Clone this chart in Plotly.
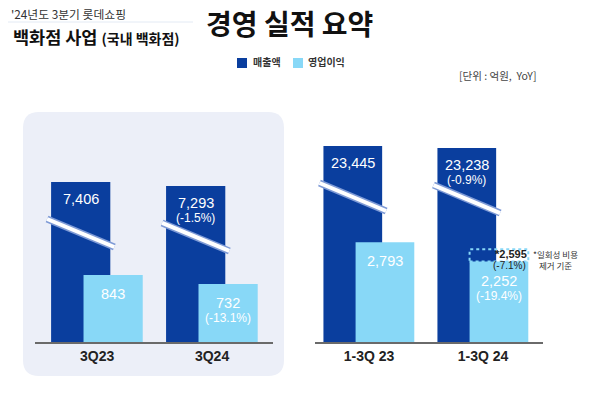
import plotly.graph_objects as go

# ---------------- data ----------------
periods_q = ["3Q23", "3Q24"]
sales_q = [7406, 7293]
op_q = [843, 732]
sales_q_yoy = [None, "(-1.5%)"]
op_q_yoy = [None, "(-13.1%)"]

periods_cum = ["1-3Q 23", "1-3Q 24"]
sales_cum = [23445, 23238]
op_cum = [2793, 2252]
sales_cum_yoy = [None, "(-0.9%)"]
op_cum_yoy = [None, "(-19.4%)"]
op_adj_cum = [None, 2595]
op_adj_cum_yoy = [None, "(-7.1%)"]

series_names = ["매출액", "영업이익"]

# ---------------- style ----------------
W, H = 600, 393
DARK = "#0A3E9E"
LIGHT = "#88D8F7"
PANEL = "#ECEFF8"
TXT = "#222222"
NUM_FONT = "Liberation Sans, Arial, Noto Sans CJK KR"
KR_FONT = "Noto Sans CJK KR, Noto Sans, sans-serif"

PLOT_TOP, PLOT_BOT = 100, 342
PLOT_H = PLOT_BOT - PLOT_TOP

D_OFF, D_W = -0.40, 0.515
L_OFF, L_W = -0.118, 0.515


def px(x):
    return x / W


def py(y):
    return 1 - y / H


# axis ranges: dark bars on a truncated axis (base), light bars full scale (overlaying)
yL_dark = [2835, 2835 + PLOT_H / 0.035]
yL_light = [0, PLOT_H * 12.6]
yR_dark = [3845, 3845 + PLOT_H / 0.01]
yR_light = [0, PLOT_H * 28.0]

fig = go.Figure()

panels = [
    dict(xa="x", yd="y", yl="y2", cats=periods_q, sales=sales_q, op=op_q,
         s_yoy=sales_q_yoy, o_yoy=op_q_yoy, rd=yL_dark),
    dict(xa="x2", yd="y3", yl="y4", cats=periods_cum, sales=sales_cum, op=op_cum,
         s_yoy=sales_cum_yoy, o_yoy=op_cum_yoy, rd=yR_dark),
]

shapes = []
annotations = []


def rounded_rect(x0, y0, x1, y1, r):
    X0, X1 = px(x0), px(x1)
    Y0, Y1 = py(y0), py(y1)
    rx, ry = r / W, r / H
    return (f"M {X0+rx},{Y0} L {X1-rx},{Y0} Q {X1},{Y0} {X1},{Y0-ry} "
            f"L {X1},{Y1+ry} Q {X1},{Y1} {X1-rx},{Y1} L {X0+rx},{Y1} "
            f"Q {X0},{Y1} {X0},{Y1+ry} L {X0},{Y0-ry} Q {X0},{Y0} {X0+rx},{Y0} Z")


shapes.append(dict(type="path", xref="paper", yref="paper", layer="below",
                   path=rounded_rect(23, 112, 284, 376, 16), fillcolor=PANEL, line=dict(width=0)))

for p in panels:
    n = len(p["cats"])
    xs = list(range(n))
    fig.add_trace(go.Bar(x=xs, y=p["sales"], xaxis=p["xa"], yaxis=p["yd"],
                         offset=D_OFF, width=D_W, marker=dict(color=DARK, line=dict(width=0)),
                         name=series_names[0], showlegend=False, hoverinfo="skip"))
    fig.add_trace(go.Bar(x=xs, y=p["op"], xaxis=p["xa"], yaxis=p["yl"],
                         offset=L_OFF, width=L_W, marker=dict(color=LIGHT, line=dict(width=0)),
                         name=series_names[1], showlegend=False, hoverinfo="skip"))
    upp = (p["rd"][1] - p["rd"][0]) / PLOT_H
    for i in xs:
        v = p["sales"][i]
        # axis-break marks on the truncated sales bars
        bx0 = i + D_OFF - 0.035
        bx1 = i + D_OFF + D_W + 0.035
        by0 = v - 37 * upp
        by1 = v - 65 * upp
        for col, lw in (("#7E9AD6", 7), ("white", 4)):
            shapes.append(dict(type="line", xref=p["xa"], yref=p["yd"],
                               x0=bx0, x1=bx1, y0=by0, y1=by1,
                               line=dict(color=col, width=lw)))
        cx = i + D_OFF + D_W / 2
        annotations.append(dict(x=cx, y=v, xref=p["xa"], yref=p["yd"], text=f"{v:,}",
                                showarrow=False, yanchor="middle", yshift=-17,
                                font=dict(family=NUM_FONT, size=14.5, color="white")))
        if p["s_yoy"][i]:
            annotations.append(dict(x=cx, y=v, xref=p["xa"], yref=p["yd"], text=p["s_yoy"][i],
                                    showarrow=False, yanchor="middle", yshift=-32,
                                    font=dict(family=NUM_FONT, size=12, color="white")))
        o = p["op"][i]
        lx = i + L_OFF + L_W / 2
        annotations.append(dict(x=lx, y=o, xref=p["xa"], yref=p["yl"], text=f"{o:,}",
                                showarrow=False, yanchor="middle", yshift=-19,
                                font=dict(family=NUM_FONT, size=14.5, color="white")))
        if p["o_yoy"][i]:
            annotations.append(dict(x=lx, y=o, xref=p["xa"], yref=p["yl"], text=p["o_yoy"][i],
                                    showarrow=False, yanchor="middle", yshift=-34,
                                    font=dict(family=NUM_FONT, size=12, color="white")))

# adjusted operating profit (dotted box)
for i, adj in enumerate(op_adj_cum):
    if adj is None:
        continue
    x0 = i + L_OFF
    x1 = i + L_OFF + L_W
    shapes.append(dict(type="rect", xref="x2", yref="y4", x0=x0, x1=x1,
                       y0=op_cum[i], y1=adj, line=dict(color=LIGHT, width=2, dash="dot"),
                       fillcolor="rgba(0,0,0,0)", layer="above"))
    annotations.append(dict(x=x1, y=adj, xref="x2", yref="y4", text=f"<b>*{adj:,}</b>",
                            showarrow=False, xanchor="right", yanchor="middle", yshift=-5, xshift=1,
                            font=dict(family=NUM_FONT, size=11, color=TXT)))
    annotations.append(dict(x=x1, y=adj, xref="x2", yref="y4", text=op_adj_cum_yoy[i],
                            showarrow=False, xanchor="right", yanchor="middle", yshift=-16, xshift=0,
                            font=dict(family=NUM_FONT, size=10, color=TXT)))
    annotations.append(dict(x=x1, y=adj, xref="x2", yref="y4",
                            text="*일회성 비용<br>제거 기준", align="center",
                            showarrow=False, xanchor="left", yanchor="middle", yshift=-10, xshift=3,
                            font=dict(family=KR_FONT, size=8.5, color="#333333")))

# titles & labels
annotations += [
    dict(x=px(9), y=py(13), xref="paper", yref="paper", text="'24년도 3분기 롯데쇼핑",
         showarrow=False, xanchor="left", yanchor="middle",
         font=dict(family=KR_FONT, size=11.8, color="#333333")),
    dict(x=px(11), y=py(36), xref="paper", yref="paper",
         text="<b>백화점 사업 <span style='font-size:14px'>(국내 백화점)</span></b>",
         showarrow=False, xanchor="left", yanchor="middle",
         font=dict(family=KR_FONT, size=17.5, color="#111111")),
    dict(x=px(289), y=py(23), xref="paper", yref="paper", text="<b>경영 실적 요약</b>",
         showarrow=False, xanchor="center", yanchor="middle",
         font=dict(family=KR_FONT, size=28, color="#111111")),
    dict(x=px(538), y=py(76), xref="paper", yref="paper", text="[단위 : 억원,  YoY]",
         showarrow=False, xanchor="right", yanchor="middle",
         font=dict(family=KR_FONT, size=10.5, color="#444444")),
    dict(x=px(251), y=py(62), xref="paper", yref="paper", text=f"<b>{series_names[0]}</b>",
         showarrow=False, xanchor="left", yanchor="middle",
         font=dict(family=KR_FONT, size=10, color="#333333")),
    dict(x=px(306), y=py(62), xref="paper", yref="paper", text=f"<b>{series_names[1]}</b>",
         showarrow=False, xanchor="left", yanchor="middle",
         font=dict(family=KR_FONT, size=10, color="#333333")),
]

shapes += [
    dict(type="line", xref="paper", yref="paper", x0=px(8), x1=px(193), y0=py(22), y1=py(22),
         line=dict(color="#E3EAF4", width=1)),
    dict(type="rect", xref="paper", yref="paper", x0=px(237), x1=px(247), y0=py(58), y1=py(68),
         fillcolor=DARK, line=dict(width=0)),
    dict(type="rect", xref="paper", yref="paper", x0=px(293), x1=px(303), y0=py(58), y1=py(68),
         fillcolor=LIGHT, line=dict(width=0)),
]

axis_common = dict(showgrid=False, zeroline=False, showline=True, linecolor="#6A6A6A",
                   linewidth=2, ticks="", tickvals=[0, 1],
                   tickfont=dict(family=NUM_FONT, size=14, color=TXT), fixedrange=True)
dom_y = [py(PLOT_BOT), py(PLOT_TOP)]

fig.update_layout(
    width=W, height=H, margin=dict(l=0, r=0, t=0, b=0),
    paper_bgcolor="white", plot_bgcolor="rgba(0,0,0,0)",
    barmode="overlay", showlegend=False, hovermode=False,
    xaxis=dict(domain=[px(35), px(273)], range=[-0.54, 1.53], anchor="y",
               ticktext=[f"<b>{c}</b>" for c in periods_q], **axis_common),
    yaxis=dict(domain=dom_y, range=yL_dark, visible=False, anchor="x", fixedrange=True),
    yaxis2=dict(domain=dom_y, range=yL_light, visible=False, overlaying="y", anchor="x",
                fixedrange=True),
    xaxis2=dict(domain=[px(315), px(543)], range=[-0.474, 1.526], anchor="y3",
                ticktext=[f"<b>{c}</b>" for c in periods_cum], **axis_common),
    yaxis3=dict(domain=dom_y, range=yR_dark, visible=False, anchor="x2", fixedrange=True),
    yaxis4=dict(domain=dom_y, range=yR_light, visible=False, overlaying="y3", anchor="x2",
                fixedrange=True),
    shapes=shapes,
    annotations=annotations,
)

fig.write_html("out.html", config={"displayModeBar": False},
               post_script="document.body.style.margin='0';")
